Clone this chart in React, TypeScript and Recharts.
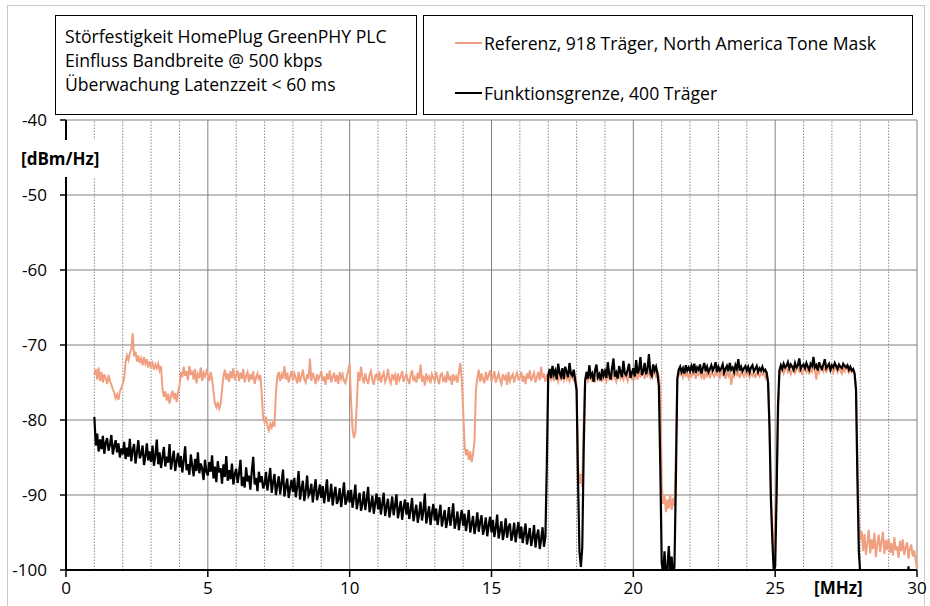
import React from "react";
import {
  LineChart,
  Line,
  XAxis,
  YAxis,
  CartesianGrid,
  ReferenceLine,
  Legend,
} from "recharts";

// frequency grid of the analyzer sweep: 1.00 .. 30.00 MHz in 0.05 MHz steps
const freqStart = 1;
const freqStep = 0.05;

// Referenz, 918 Träger, North America Tone Mask  [dBm/Hz], one row per MHz
const referenz = [
  -74.0,-73.2,-74.6,-73.0,-74.8,-73.6,-75.0,-73.9,-74.5,-75.2,-74.0,-74.8,-75.3,-75.9,-76.4,-77.1,-76.6,-77.3,-76.2,-75.7,
  -75.2,-74.4,-72.3,-71.4,-72.0,-71.1,-70.6,-68.4,-71.5,-70.9,-72.2,-71.4,-72.4,-71.8,-72.7,-71.6,-72.5,-71.9,-73.0,-72.2,
  -72.9,-72.4,-73.3,-72.6,-73.1,-72.5,-73.4,-72.8,-75.8,-76.9,-76.2,-77.4,-76.5,-77.8,-76.8,-76.1,-77.2,-76.4,-77.6,-76.3,
  -75.5,-73.6,-74.3,-72.9,-74.1,-73.5,-74.7,-72.8,-74.0,-73.4,-74.6,-73.2,-75.1,-73.9,-74.4,-73.0,-74.8,-73.7,-74.2,-73.5,
  -74.0,-74.8,-73.6,-74.5,-76.2,-77.8,-78.3,-77.6,-78.5,-77.9,-76.0,-74.2,-73.3,-74.6,-73.8,-74.9,-73.5,-74.4,-73.1,-74.7,
  -74.0,-73.4,-74.8,-73.7,-74.5,-73.2,-75.0,-74.1,-73.6,-74.9,-73.9,-74.6,-73.5,-75.2,-74.3,-73.8,-74.7,-74.0,-76.5,-79.8,
  -80.3,-79.6,-80.8,-81.4,-80.5,-81.0,-80.2,-80.9,-76.3,-74.2,-73.6,-74.8,-73.9,-74.5,-72.8,-74.6,-73.7,-75.0,-74.2,-73.5,
  -74.7,-73.8,-74.4,-75.1,-73.6,-74.9,-74.2,-73.3,-74.6,-75.0,-73.9,-74.5,-71.8,-74.8,-73.7,-74.3,-75.2,-73.9,-74.6,-74.1,
  -73.5,-74.8,-74.2,-75.3,-73.8,-74.6,-73.4,-75.0,-74.3,-73.7,-74.9,-74.0,-75.2,-73.6,-74.5,-73.9,-74.8,-75.1,-74.2,-73.4,
  -72.5,-77.5,-81.2,-82.4,-81.6,-78.0,-73.6,-74.8,-72.9,-74.3,-75.1,-73.8,-74.6,-75.2,-74.0,-73.5,-74.7,-75.3,-74.1,-73.9,
  -74.8,-73.6,-75.0,-74.2,-73.7,-74.9,-74.4,-73.2,-74.6,-75.1,-73.9,-74.5,-74.0,-75.3,-73.8,-74.7,-74.2,-73.5,-74.9,-74.3,
  -73.9,-74.6,-75.2,-74.0,-73.4,-74.8,-74.3,-75.0,-73.7,-74.5,-72.6,-74.9,-74.1,-75.4,-73.8,-74.6,-74.2,-75.1,-73.9,-74.4,
  -74.8,-73.6,-74.5,-75.2,-74.0,-73.8,-74.9,-74.3,-75.0,-73.5,-74.7,-74.1,-75.3,-73.9,-74.6,-74.2,-75.0,-73.7,-72.4,-74.5,
  -78.5,-83.4,-84.7,-83.9,-85.3,-84.2,-85.6,-84.5,-82.8,-76.0,-74.4,-73.3,-74.9,-73.8,-74.6,-75.1,-73.6,-74.7,-74.0,-73.4,
  -74.9,-74.2,-73.5,-75.0,-74.4,-73.8,-74.7,-75.2,-73.9,-74.5,-74.1,-75.3,-73.6,-74.8,-74.3,-73.9,-75.0,-74.2,-73.7,-74.6,
  -74.4,-73.6,-74.9,-74.1,-75.2,-73.8,-74.5,-73.4,-74.8,-74.2,-73.7,-75.0,-74.3,-73.6,-74.7,-72.9,-74.4,-73.8,-74.9,-74.1,
  -74.3,-73.9,-74.6,-74.0,-74.8,-73.7,-74.4,-74.9,-73.8,-74.5,-74.1,-74.7,-73.9,-74.6,-74.2,-74.8,-73.9,-74.4,-74.7,-74.1,
  -75.5,-86.0,-88.5,-87.2,-88.9,-80.0,-74.6,-74.0,-74.8,-74.2,-73.9,-74.7,-74.3,-75.0,-74.1,-73.8,-74.6,-74.2,-74.9,-73.7,
  -74.2,-74.8,-73.9,-74.5,-74.0,-74.7,-73.8,-74.4,-74.9,-74.1,-73.6,-74.5,-74.0,-74.6,-73.9,-74.3,-74.8,-73.7,-74.2,-74.5,
  -73.8,-74.4,-73.9,-74.6,-73.5,-74.2,-74.0,-73.6,-74.5,-73.8,-74.1,-73.4,-74.3,-73.7,-74.0,-73.5,-74.2,-73.6,-74.1,-76.0,
  -88.5,-91.2,-90.0,-92.3,-90.6,-91.8,-89.9,-92.0,-90.4,-91.5,-84.0,-74.6,-73.4,-74.0,-73.7,-74.3,-73.5,-74.1,-73.8,-74.4,
  -73.6,-74.2,-73.9,-73.3,-74.5,-73.7,-74.0,-73.5,-74.3,-73.8,-74.6,-73.4,-74.1,-73.7,-74.4,-73.6,-73.9,-74.2,-73.5,-74.0,
  -73.7,-74.3,-73.5,-74.0,-73.8,-74.5,-73.4,-74.1,-73.6,-75.3,-73.9,-74.2,-73.5,-74.0,-73.7,-74.4,-73.6,-73.9,-74.2,-73.5,
  -74.0,-73.6,-74.3,-73.8,-74.1,-73.5,-74.4,-73.7,-73.9,-74.2,-73.6,-74.0,-73.8,-74.3,-73.5,-75.0,-80.5,-90.0,-95.5,-97.5,
  -92.5,-89.0,-80.0,-74.0,-73.5,-73.1,-73.8,-73.3,-72.9,-73.6,-73.2,-73.9,-73.4,-73.0,-73.7,-73.3,-72.8,-73.5,-73.1,-73.8,
  -73.3,-72.9,-73.6,-73.2,-73.9,-73.0,-73.5,-72.7,-73.4,-74.6,-73.1,-73.7,-73.2,-72.8,-73.5,-73.0,-73.6,-73.3,-72.9,-73.4,
  -73.1,-73.7,-73.2,-72.9,-73.6,-73.0,-73.4,-73.8,-73.1,-73.5,-72.8,-73.3,-73.7,-73.2,-73.6,-73.4,-73.9,-75.5,-85.0,-94.0,
  -96.0,-94.8,-97.5,-95.2,-98.0,-96.4,-94.6,-97.8,-95.9,-97.2,-95.0,-98.3,-96.5,-95.3,-97.6,-96.2,-94.9,-97.9,-96.0,-97.3,
  -95.8,-97.7,-96.4,-98.1,-95.6,-97.4,-96.8,-98.4,-96.1,-97.5,-95.9,-98.0,-97.0,-96.3,-98.5,-97.2,-96.6,-98.2,-97.4,-98.6,
  -99.8,
];

// Funktionsgrenze, 400 Träger  [dBm/Hz], one row per MHz
const funktionsgrenze = [
  -79.6,-83.4,-81.8,-84.2,-82.6,-83.9,-82.1,-84.5,-83.0,-82.4,-84.1,-83.3,-82.0,-84.6,-83.5,-82.7,-84.3,-83.1,-85.0,-83.8,
  -84.6,-82.9,-85.2,-83.7,-84.9,-82.5,-85.5,-84.0,-83.2,-85.8,-84.3,-82.7,-85.1,-84.6,-83.4,-86.0,-84.8,-83.1,-85.4,-84.2,
  -85.6,-83.4,-86.1,-84.7,-82.6,-85.9,-84.3,-86.4,-85.0,-83.6,-86.2,-84.9,-85.7,-83.2,-86.6,-85.3,-84.1,-86.8,-85.5,-84.4,
  -86.3,-84.8,-87.0,-85.4,-83.5,-86.7,-85.9,-87.3,-84.6,-86.1,-87.5,-85.2,-86.8,-84.3,-87.1,-85.8,-86.5,-88.0,-85.3,-86.9,
  -87.4,-85.6,-86.9,-84.7,-87.8,-86.2,-88.3,-85.5,-87.0,-86.4,-88.5,-85.9,-87.6,-84.8,-88.1,-86.7,-87.9,-85.8,-88.6,-87.2,
  -86.5,-88.4,-87.1,-85.3,-88.8,-87.6,-89.0,-86.3,-88.2,-87.4,-89.3,-86.8,-84.9,-88.6,-87.7,-89.5,-86.9,-88.3,-87.5,-89.1,
  -88.6,-86.9,-89.4,-88.0,-86.4,-89.7,-88.3,-87.2,-90.0,-88.7,-87.5,-89.9,-88.4,-86.6,-90.2,-88.9,-87.8,-90.4,-89.1,-88.0,
  -89.6,-87.7,-90.3,-88.9,-86.8,-90.6,-89.2,-88.1,-90.8,-89.5,-87.4,-90.1,-89.7,-88.5,-91.0,-89.3,-87.9,-90.7,-89.8,-88.6,
  -90.4,-88.8,-91.1,-89.6,-87.9,-90.9,-90.2,-88.5,-91.4,-89.9,-88.9,-91.2,-90.6,-89.1,-91.6,-90.0,-88.3,-91.3,-90.7,-89.4,
  -91.0,-89.3,-91.7,-90.4,-88.6,-91.9,-90.8,-89.7,-92.1,-91.2,-89.5,-92.0,-90.6,-88.9,-92.3,-91.4,-90.1,-92.5,-91.1,-89.8,
  -91.9,-90.3,-92.6,-91.2,-89.7,-92.8,-91.6,-90.5,-93.0,-91.8,-90.2,-92.7,-91.4,-89.9,-93.1,-92.0,-90.8,-93.3,-91.7,-90.6,
  -92.6,-91.0,-93.2,-92.0,-90.4,-93.5,-92.3,-91.3,-93.7,-92.5,-90.9,-93.4,-92.1,-89.8,-93.8,-92.7,-91.5,-94.0,-92.4,-91.2,
  -93.4,-91.8,-94.0,-92.7,-91.3,-94.2,-93.1,-92.0,-94.4,-93.3,-91.6,-94.1,-92.8,-91.1,-94.5,-93.6,-92.2,-94.7,-93.2,-92.0,
  -94.1,-92.5,-94.8,-93.5,-92.0,-95.0,-93.9,-92.8,-95.2,-94.0,-92.3,-94.9,-93.6,-92.7,-95.3,-94.4,-93.0,-95.5,-94.1,-92.9,
  -95.0,-93.3,-95.6,-94.4,-92.6,-95.8,-94.7,-93.5,-96.0,-94.9,-93.1,-95.7,-94.3,-93.8,-96.1,-95.2,-93.7,-96.3,-94.8,-93.6,
  -95.8,-94.2,-96.4,-95.1,-93.8,-96.6,-95.5,-94.4,-96.8,-95.7,-94.0,-97.0,-95.4,-94.6,-97.2,-95.9,-94.3,-96.9,-95.6,-86.0,
  -74.0,-73.2,-74.4,-72.8,-73.9,-73.4,-74.6,-72.5,-73.7,-74.2,-73.1,-74.5,-72.9,-73.6,-74.3,-72.4,-73.8,-74.1,-73.3,-74.7,
  -76.0,-88.0,-97.5,-99.6,-97.0,-84.0,-74.8,-73.6,-74.5,-72.7,-74.2,-73.8,-74.9,-73.4,-72.6,-74.3,-73.9,-74.7,-73.2,-74.1,
  -73.5,-74.4,-72.3,-73.9,-74.6,-73.1,-71.8,-74.2,-73.7,-74.5,-72.8,-73.6,-74.3,-72.1,-73.8,-74.0,-73.3,-72.5,-74.4,-73.7,
  -73.1,-74.2,-72.0,-73.8,-73.3,-71.6,-74.0,-73.5,-72.4,-73.9,-73.2,-71.2,-73.7,-74.1,-72.6,-73.4,-72.9,-73.8,-75.5,-86.0,
  -99.0,-100.5,-97.5,-101.0,-99.8,-96.8,-100.6,-98.2,-101.0,-99.5,-88.0,-74.5,-73.3,-72.9,-73.6,-73.1,-73.8,-72.7,-73.4,-73.0,
  -73.5,-72.8,-73.4,-72.5,-73.7,-73.0,-73.3,-72.6,-73.8,-73.1,-72.4,-73.5,-72.9,-73.6,-73.2,-72.7,-73.4,-73.0,-72.3,-73.6,
  -72.9,-73.4,-73.1,-72.6,-73.7,-73.2,-72.8,-73.5,-72.4,-73.3,-73.0,-73.6,-72.7,-73.2,-71.9,-73.4,-72.9,-73.5,-73.1,-72.8,
  -73.4,-72.9,-73.6,-73.0,-72.7,-73.5,-73.2,-72.8,-73.6,-73.1,-73.4,-72.9,-73.5,-73.3,-73.7,-75.0,-81.0,-90.5,-96.0,-100.2,
  -99.5,-90.0,-78.0,-73.4,-72.7,-73.2,-72.5,-73.0,-72.8,-72.3,-73.1,-72.6,-72.9,-73.3,-72.4,-73.0,-72.7,-71.8,-73.2,-72.8,
  -72.6,-73.1,-72.4,-72.9,-73.3,-72.5,-72.8,-71.6,-73.0,-72.7,-73.4,-72.3,-72.9,-73.2,-72.6,-71.9,-73.1,-72.8,-72.5,-73.3,
  -72.7,-73.0,-72.4,-72.8,-73.2,-72.6,-72.9,-73.1,-72.5,-72.8,-73.0,-72.7,-73.3,-72.9,-73.4,-73.2,-73.8,-76.0,-88.0,-97.5,
  -100.6,-101.5,-102.0,-101.8,-102.3,-101.9,-102.5,-102.1,-102.4,-102.8,-102.2,-102.6,-103.0,-102.7,-102.9,-103.1,-102.5,-103.2,-102.8,-103.0,
  -103.1,-102.9,-103.3,-102.7,-103.4,-103.0,-103.2,-102.8,-103.5,-103.1,-103.3,-103.0,-103.6,-103.2,-99.5,-103.4,-103.1,-103.5,-103.3,-103.6,
  -103.5,
];

const xTicks = [0, 5, 10, 15, 20, 25, 30];
const yTicks = [-100, -90, -80, -70, -60, -50, -40];
const xGridLines = [1, 2, 3, 4, 5, 6, 7, 8, 9, 10, 11, 12, 13, 14, 15, 16, 17, 18, 19, 20, 21, 22, 23, 24, 25, 26, 27, 28, 29, 30];

const titleLines = [
  "Störfestigkeit HomePlug GreenPHY PLC",
  "Einfluss Bandbreite @ 500 kbps",
  "Überwachung Latenzzeit < 60 ms",
];

// legend rows, top to bottom
const legendOrder = ["referenz", "funktion"];

const REF_COLOR = "#f0a080";
const FONT = "'Open Sans', sans-serif";
const TEXT_SIZE = 17.6;

const data = referenz.map((r, i) => ({
  f: Math.round((freqStart + i * freqStep) * 100) / 100,
  referenz: r,
  funktion: funktionsgrenze[i],
}));

function LegendBox(props: any) {
  const items = [...(props.payload || [])].sort(
    (a: any, b: any) => legendOrder.indexOf(a.dataKey) - legendOrder.indexOf(b.dataKey)
  );
  return (
    <div
      style={{
        width: 488,
        height: 98,
        border: "1px solid #000",
        position: "relative",
        fontFamily: FONT,
        fontSize: TEXT_SIZE,
        color: "#000",
        background: "#fff",
      }}
    >
      {items.map((it: any, i: number) => (
        <div
          key={it.value}
          style={{
            position: "absolute",
            left: 31,
            top: i === 0 ? 14 : 64,
            height: 26,
            display: "flex",
            alignItems: "center",
            whiteSpace: "nowrap",
          }}
        >
          <span
            style={{
              display: "inline-block",
              width: 27,
              height: 0,
              borderTop: `2px solid ${it.color}`,
              marginRight: 2,
            }}
          />
          {it.value}
        </div>
      ))}
    </div>
  );
}

export default function App() {
  return (
    <div
      style={{
        position: "absolute",
        left: 0,
        top: 0,
        width: 930,
        height: 606,
        overflow: "hidden",
        background: "#fff",
        fontFamily: FONT,
      }}
    >
      <div
        style={{
          position: "absolute",
          left: 7,
          top: 5,
          width: 916,
          height: 640,
          border: "1px solid #c8c8c8",
        }}
      />
      <LineChart
        width={930}
        height={606}
        data={data}
        margin={{ top: 120, right: 13, left: 10, bottom: 6 }}
        style={{ position: "absolute", left: 0, top: 0 }}
      >
        <CartesianGrid vertical={false} stroke="#808080" strokeWidth={1} />
        {xGridLines.map((g) => (
          <ReferenceLine
            key={g}
            x={g}
            stroke={g % 5 === 0 ? "#808080" : "#8c8c8c"}
            strokeDasharray={g % 5 === 0 ? undefined : "1.5 1.5"}
            strokeWidth={1}
          />
        ))}
        <XAxis
          dataKey="f"
          type="number"
          domain={[0, 30]}
          ticks={xTicks}
          interval={0}
          axisLine={{ stroke: "#000", strokeWidth: 2 }}
          tickLine={{ stroke: "#000", strokeWidth: 1.5 }}
          tickSize={7}
          tickMargin={5}
          height={30}
          tick={{ fill: "#000", fontSize: 17, fontFamily: FONT }}
        />
        <YAxis
          type="number"
          domain={[-100, -40]}
          ticks={yTicks}
          interval={0}
          allowDataOverflow
          width={56}
          axisLine={{ stroke: "#000", strokeWidth: 2 }}
          tickLine={{ stroke: "#000", strokeWidth: 1.5 }}
          tickSize={6}
          tickMargin={13}
          tick={{ fill: "#000", fontSize: 17, fontFamily: FONT }}
        />
        <Legend
          layout="horizontal"
          verticalAlign="middle"
          align="center"
          content={<LegendBox />}
          wrapperStyle={{ position: "absolute", left: 423, top: 15, width: 490, height: 100 }}
        />
        <Line
          type="linear"
          dataKey="referenz"
          name="Referenz, 918 Träger, North America Tone Mask"
          stroke={REF_COLOR}
          strokeWidth={2}
          dot={false}
          activeDot={false}
          isAnimationActive={false}
        />
        <Line
          type="linear"
          dataKey="funktion"
          name="Funktionsgrenze, 400 Träger"
          stroke="#000"
          strokeWidth={2.2}
          dot={false}
          activeDot={false}
          isAnimationActive={false}
        />
      </LineChart>
      <div
        style={{
          position: "absolute",
          left: 55,
          top: 15,
          width: 362,
          height: 100,
          border: "1px solid #000",
          background: "#fff",
          fontSize: TEXT_SIZE,
          lineHeight: "24px",
          color: "#000",
          paddingTop: 8,
          paddingLeft: 9,
          boxSizing: "border-box",
          whiteSpace: "nowrap",
        }}
      >
        {titleLines.map((t) => (
          <div key={t}>{t}</div>
        ))}
      </div>
      <div
        style={{
          position: "absolute",
          left: 18,
          top: 140,
          width: 88,
          height: 37,
          background: "#fff",
          fontWeight: 700,
          fontSize: 17,
          lineHeight: "37px",
          color: "#000",
          paddingLeft: 3,
          boxSizing: "border-box",
        }}
      >
        [dBm/Hz]
      </div>
      <div
        style={{
          position: "absolute",
          left: 814,
          top: 577,
          fontWeight: 700,
          fontSize: 17,
          lineHeight: "22px",
          color: "#000",
        }}
      >
        [MHz]
      </div>
    </div>
  );
}
